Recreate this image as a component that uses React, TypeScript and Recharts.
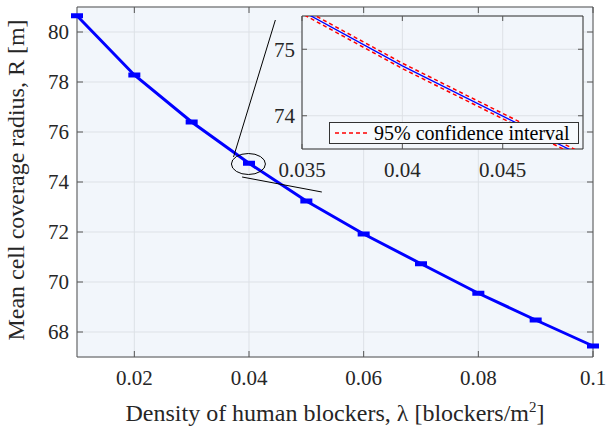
import React from "react";
import { LineChart, Line, XAxis, YAxis, CartesianGrid, ReferenceArea, ReferenceLine, ReferenceDot, Legend, Label } from "recharts";

// blocker density (blockers/m^2)
const densities = [0.01, 0.02, 0.03, 0.04, 0.05, 0.06, 0.07, 0.08, 0.09, 0.1];
// mean coverage radius R [m]
const meanRadius = [80.65, 78.28, 76.4, 74.75, 73.24, 71.92, 70.73, 69.55, 68.48, 67.44];
// 95% confidence bounds
const ciUpper = [80.69, 78.32, 76.44, 74.79, 73.28, 71.96, 70.77, 69.59, 68.52, 67.48];
const ciLower = [80.61, 78.24, 76.36, 74.71, 73.2, 71.88, 70.69, 69.51, 68.44, 67.4];

const xTicks = [0.02, 0.04, 0.06, 0.08, 0.1];
const yTicks = [68, 70, 72, 74, 76, 78, 80];
const insetXTicks = [0.035, 0.04, 0.045];
const insetYTicks = [74, 75];

// zoom annotation (data coords)
const zoomCenter = { x: 0.0399, y: 74.72 };
const zoomLineUp = [{ x: 0.0373, y: 75.0 }, { x: 0.0446, y: 80.48 }];
const zoomLineDown = [{ x: 0.0388, y: 74.2 }, { x: 0.0527, y: 73.6 }];

const data = densities.map((d, i) => ({ d, r: meanRadius[i], hi: ciUpper[i], lo: ciLower[i] }));

const FONT = "'Liberation Serif', 'Times New Roman', Times, serif";
const TXT = "#262626";
const AX = "#555555";
const BG = "#f2f6fb";
const GRID = "#dde1e6";
const BLUE = "#0000ff";

// main plot box
const M = { left: 77, right: 593, top: 7, bottom: 357 };
// inset plot box (inside its own svg)
const I = { left: 40, right: 321, top: 6, bottom: 139 };

const textStyle = { fontFamily: FONT, fontSize: 21, fill: TXT };
const titleStyle = { fontFamily: FONT, fontSize: 24, fill: TXT };

const xTick = (box: any, len: number) => (p: any) => (
  <g>
    <line x1={p.x} x2={p.x} y1={box.bottom} y2={box.bottom - len} stroke={AX} />
    <line x1={p.x} x2={p.x} y1={box.top} y2={box.top + len} stroke={AX} />
    <text x={p.x} y={p.y} dy="0.71em" textAnchor="middle" style={textStyle}>
      {p.payload.value}
    </text>
  </g>
);

const yTick = (box: any, len: number) => (p: any) => (
  <g>
    <line x1={box.left} x2={box.left + len} y1={p.y} y2={p.y} stroke={AX} />
    <line x1={box.right} x2={box.right - len} y1={p.y} y2={p.y} stroke={AX} />
    <text x={p.x} y={p.y} dy="0.35em" textAnchor="end" style={textStyle}>
      {p.payload.value}
    </text>
  </g>
);

const marker = (p: any) => (
  <rect key={`m-${p.index}`} x={p.cx - 6} y={p.cy - 2.5} width={12} height={5} fill={BLUE} />
);

const InsetLegend = () => (
  <div
    style={{
      width: 250,
      height: 22,
      boxSizing: "border-box",
      border: "1px solid #333",
      background: "#f7fafd",
      display: "flex",
      alignItems: "center",
      fontFamily: FONT,
      fontSize: 20,
      lineHeight: "20px",
      color: "#000",
      whiteSpace: "nowrap",
    }}
  >
    <svg width={44} height={20}>
      <line x1={5} x2={40} y1={10} y2={10} stroke="#ff0000" strokeWidth={1.5} strokeDasharray="4 3" />
    </svg>
    <span>95% confidence interval</span>
  </div>
);

export default function App() {
  return (
    <div style={{ position: "absolute", left: 0, top: 0, width: 606, height: 430, background: "#fff", fontFamily: FONT }}>
      <div style={{ position: "absolute", left: 0, top: 0 }}>
        <LineChart width={606} height={430} data={data} margin={{ top: 7, right: 13, left: 0, bottom: 0 }}>
          <CartesianGrid stroke={GRID} fill={BG} fillOpacity={1} />
          <XAxis
            dataKey="d"
            type="number"
            domain={[0.01, 0.1]}
            ticks={xTicks}
            height={73}
            tickSize={0}
            tickMargin={13}
            axisLine={false}
            tick={xTick(M, 6)}
          >
            <Label
              content={() => (
                <text x={335} y={421} textAnchor="middle" style={titleStyle}>
                  Density of human blockers, λ [blockers/m
                  <tspan dy={-9} fontSize={15}>2</tspan>
                  <tspan dy={9}>]</tspan>
                </text>
              )}
            />
          </XAxis>
          <YAxis
            type="number"
            domain={[67, 81]}
            ticks={yTicks}
            width={77}
            tickSize={0}
            tickMargin={8}
            axisLine={false}
            tick={yTick(M, 6)}
          >
            <Label
              content={() => (
                <text transform="translate(24,180) rotate(-90)" textAnchor="middle" style={titleStyle}>
                  Mean cell coverage radius, R [m]
                </text>
              )}
            />
          </YAxis>
          <ReferenceArea x1={0.01} x2={0.1} y1={67} y2={81} fill="none" stroke={AX} strokeWidth={1} ifOverflow="visible" />
          <Line dataKey="r" stroke={BLUE} strokeWidth={3} dot={marker} isAnimationActive={false} />
          <ReferenceDot
            x={zoomCenter.x}
            y={zoomCenter.y}
            r={10}
            ifOverflow="visible"
            shape={(p: any) => <ellipse cx={p.cx} cy={p.cy} rx={17} ry={10.5} fill="none" stroke="#000" strokeWidth={1} />}
          />
          <ReferenceLine segment={zoomLineUp} stroke="#000" strokeWidth={1} ifOverflow="visible" />
          <ReferenceLine segment={zoomLineDown} stroke="#000" strokeWidth={1} ifOverflow="visible" />
        </LineChart>
      </div>
      <div style={{ position: "absolute", left: 262, top: 10 }}>
        <LineChart width={326} height={179} data={data} margin={{ top: 6, right: 5, left: 0, bottom: 0 }}>
          <CartesianGrid stroke={GRID} fill={BG} fillOpacity={1} />
          <XAxis
            dataKey="d"
            type="number"
            domain={[0.035, 0.049]}
            allowDataOverflow
            ticks={insetXTicks}
            height={40}
            tickSize={0}
            tickMargin={13}
            axisLine={false}
            tick={xTick(I, 5)}
          />
          <YAxis
            type="number"
            domain={[73.5, 75.5]}
            allowDataOverflow
            ticks={insetYTicks}
            width={40}
            tickSize={0}
            tickMargin={7}
            axisLine={false}
            tick={yTick(I, 5)}
          />
          <ReferenceArea x1={0.035} x2={0.049} y1={73.5} y2={75.5} fill="none" stroke="#333" strokeWidth={1} ifOverflow="visible" />
          <Line dataKey="hi" stroke="#ff0000" strokeWidth={1.5} strokeDasharray="4 3" dot={false} isAnimationActive={false} />
          <Line dataKey="lo" stroke="#ff0000" strokeWidth={1.5} strokeDasharray="4 3" dot={false} isAnimationActive={false} />
          <Line dataKey="r" stroke={BLUE} strokeWidth={1.3} dot={false} isAnimationActive={false} />
          <Legend
            layout="horizontal"
            verticalAlign="middle"
            content={<InsetLegend />}
            wrapperStyle={{ position: "absolute", left: 67, top: 112, width: 250, height: 22 }}
          />
        </LineChart>
      </div>
    </div>
  );
}
